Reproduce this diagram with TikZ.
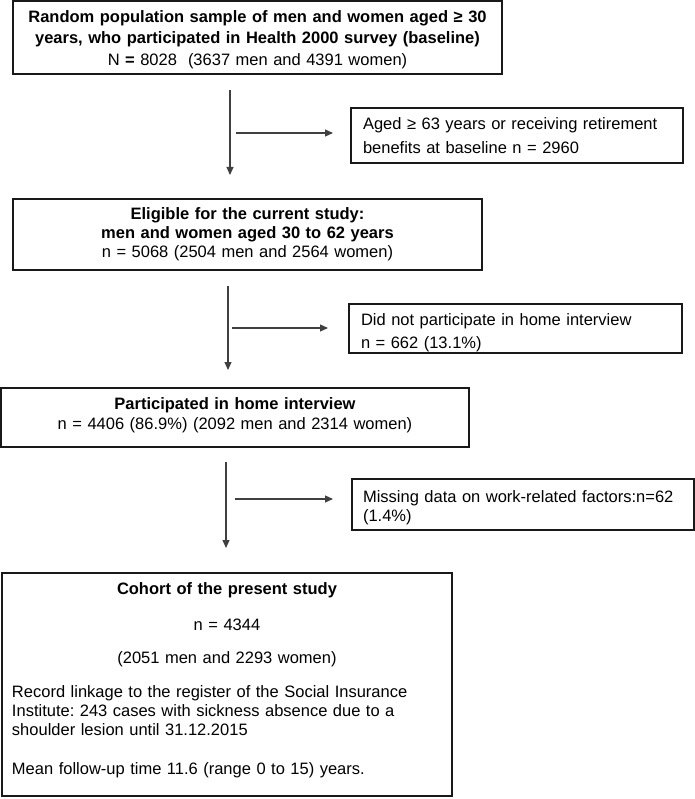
\documentclass[tikz,border=0pt]{standalone}
\usepackage{fontspec}
\setmainfont{Liberation Sans}
\usetikzlibrary{arrows.meta}
\frenchspacing
\tikzset{
  box/.style={draw=black!90, line width=1.2pt, rectangle, inner xsep=12pt, inner ysep=0pt, outer sep=0pt, anchor=north west},
  arr/.style={draw=black!75, line width=1.1pt, -{Triangle[length=8pt,width=7pt]}},
}
\begin{document}
\begin{tikzpicture}[x=1pt,y=-1pt]
\useasboundingbox (0,0) rectangle (694,799);
\node[box, minimum width=489pt, minimum height=73pt, text width=465pt, align=center,
  font=\fontsize{16.5pt}{21.5pt}\selectfont] (b1) at (13,1)
  {\rule{0pt}{16pt}\textbf{Random population sample of men and women aged ≥ 30}\\
   \textbf{years, who participated in Health 2000 survey (baseline)}\\
   N \textbf{=} 8028~~(3637 men and 4391 women)};
\node[box, minimum width=332pt, minimum height=55pt, text width=308pt, align=left,
  font=\fontsize{16.5pt}{24pt}\selectfont] (bA) at (351,108)
  {Aged ≥ 63 years or receiving retirement\\ benefits at baseline n = 2960};
\node[box, minimum width=469pt, minimum height=71pt, text width=445pt, align=center,
  font=\fontsize{16.5pt}{19pt}\selectfont] (b2) at (13,199)
  {\textbf{Eligible for the current study:}\\
   \textbf{men and women aged 30 to 62 years}\\
   n = 5068 (2504 men and 2564 women)};
\node[box, minimum width=333pt, minimum height=49pt, text width=309pt, align=left,
  font=\fontsize{16.5pt}{23pt}\selectfont] (bB) at (349,304)
  {\rule{0pt}{21pt}Did not participate in home interview\\ n = 662 (13.1\%)};
\node[box, minimum width=468pt, minimum height=59pt, text width=444pt, align=center,
  font=\fontsize{16.5pt}{20pt}\selectfont] (b3) at (1,388)
  {\textbf{Participated in home interview}\\
   n = 4406 (86.9\%) (2092 men and 2314 women)\rule[-7.5pt]{0pt}{0pt}};
\node[box, minimum width=341pt, minimum height=51pt, text width=320pt, align=left,
  inner xsep=11pt, font=\fontsize{16.5pt}{19pt}\selectfont] (bC) at (352,479)
  {\rule{0pt}{18pt}Missing data on work-related factors:n=62\\ (1.4\%)};
\node[box, minimum width=450pt, minimum height=223pt, text width=430pt, inner xsep=10pt,
  font=\fontsize{16.5pt}{19pt}\selectfont] (b4) at (2,573)
  {{\centering\textbf{Cohort of the present study}\par\vspace{17pt}
    n = 4344\par\vspace{14pt}
    (2051 men and 2293 women)\par}\vspace{15pt}
   \noindent Record linkage to the register of the Social Insurance\\
   Institute: 243 cases with sickness absence due to a\\
   shoulder lesion until 31.12.2015\par\vspace{20pt}
   \noindent Mean follow-up time 11.6 (range 0 to 15) years.\rule[-12pt]{0pt}{0pt}};
\coordinate (v1) at (230,0);
\coordinate (v2) at (228,0);
\coordinate (v3) at (226,0);
\coordinate (h1) at (236,133);
\coordinate (h2) at (232,328);
\coordinate (h3) at (235,499);
\draw[arr] ([yshift=-16pt]b1.south -| v1) -- ([yshift=24pt]b2.north -| v1);
\draw[arr] (h1) -- ([xshift=-18pt]h1 -| bA.west);
\draw[arr] ([yshift=-16pt]b2.south -| v2) -- ([yshift=18pt]b3.north -| v2);
\draw[arr] (h2) -- ([xshift=-21pt]h2 -| bB.west);
\draw[arr] ([yshift=-15pt]b3.south -| v3) -- ([yshift=25pt]b4.north -| v3);
\draw[arr] (h3) -- ([xshift=-19pt]h3 -| bC.west);
\end{tikzpicture}
\end{document}
